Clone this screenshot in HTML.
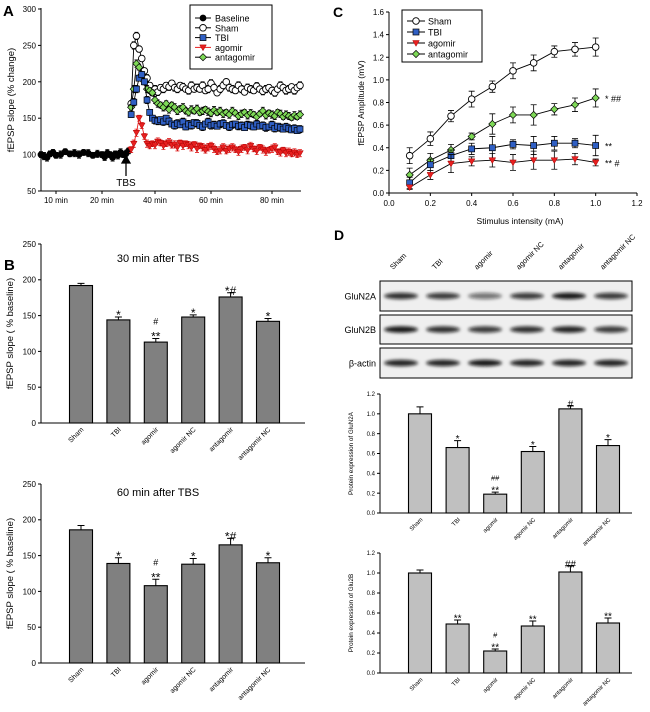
<!DOCTYPE html>
<html><head><meta charset="utf-8">
<style>
html,body{margin:0;padding:0;background:#fff;}
svg{display:block;font-family:"Liberation Sans",Arial,sans-serif;}
</style></head>
<body>
<svg id="fig" width="650" height="712" viewBox="0 0 650 712" xmlns="http://www.w3.org/2000/svg">
<defs><filter id="blur" x="-20%" y="-100%" width="140%" height="300%"><feGaussianBlur stdDeviation="1.6"/></filter></defs>
</svg>
<script>
// ---------- Panel A data ----------
const aBaseTime=[5,6,7,8,9,10,11,12,13,14,15,16,17,18,19,20,21,22,23,24,25,26,27,28,29,30];
const aBaseVal=[100,98,96,101,103,99,100,104,101,102,100,103,102,99,101,100,97,102,100,96,101,99,103,100,101,105];
const aPostTime=[31,32,33,34,35,36,37,38,39,40,41,42,43,44,45,46,47,48,49,50,51,52,53,54,55,56,57,58,59,60,61,62,63,64,65,66,67,68,69,70,71,72,73,74,75,76,77,78,79,80,81,82,83,84,85,86,87,88,89,90];
const aSham=[170,250,263,245,232,215,205,195,185,190,186,192,190,195,193,198,192,190,195,193,190,188,195,190,192,190,195,188,190,198,192,185,190,195,200,192,190,188,195,190,186,192,190,188,194,190,187,190,192,188,185,190,195,192,188,190,193,188,192,195];
const aTBI=[155,172,190,205,210,200,175,158,150,147,146,148,145,150,146,142,140,143,141,145,138,142,140,144,143,140,138,142,145,140,141,139,142,143,140,138,141,142,139,140,137,141,140,138,142,139,140,137,138,141,136,139,137,135,138,136,134,136,133,135];
const aAgo=[107,115,130,150,140,125,115,112,115,113,118,116,112,115,117,113,114,110,116,112,115,113,110,114,108,112,110,106,110,112,108,104,106,110,105,108,110,107,104,108,110,106,112,108,105,110,107,104,106,108,110,104,103,106,102,104,101,103,100,102];
const aAnt=[165,190,225,220,210,200,190,188,185,175,170,168,165,170,162,168,165,160,163,165,160,158,162,160,163,158,160,162,159,157,161,158,160,156,158,155,160,157,153,156,158,154,157,155,152,156,160,154,157,155,153,158,156,152,155,153,151,154,152,155];
const aErr=[4,5,5,4,4,4,5,4,4,5,5,4,5,4,5,4,5,5,4,5,4,5,5,4,5,4,5,4,5,5,5,4,5,5,4,5,5,4,5,5,4,5,5,4,5,4,5,5,4,5,5,4,5,4,5,5,4,5,4,5];
const aYTicks=[50,100,150,200,250,300];
const aXTicks=[10,20,40,60,80];
// ---------- Panel C data ----------
const cX=[0.1,0.2,0.3,0.4,0.5,0.6,0.7,0.8,0.9,1.0];
const cSham=[0.33,0.48,0.68,0.83,0.94,1.08,1.15,1.25,1.27,1.29];
const cShamE=[0.07,0.06,0.05,0.07,0.05,0.07,0.07,0.05,0.06,0.08];
const cTBI=[0.09,0.25,0.33,0.39,0.40,0.43,0.42,0.44,0.44,0.42];
const cTBIE=[0.05,0.05,0.05,0.05,0.10,0.04,0.08,0.06,0.04,0.09];
const cAgo=[0.05,0.16,0.26,0.28,0.29,0.27,0.29,0.29,0.30,0.27];
const cAgoE=[0.02,0.04,0.08,0.04,0.06,0.07,0.08,0.08,0.05,0.03];
const cAnt=[0.16,0.29,0.38,0.50,0.61,0.69,0.69,0.74,0.78,0.84];
const cAntE=[0.06,0.06,0.05,0.03,0.09,0.07,0.09,0.05,0.06,0.08];
const cXTicks=[0,0.2,0.4,0.6,0.8,1.0,1.2];
const cYTicks=[0,0.2,0.4,0.6,0.8,1.0,1.2,1.4,1.6];
// ---------- Panel B / D data ----------
const groups=["Sham","TBI","agomir","agomir NC","antagomir","antagomir NC"];
const b30=[192,144,113,148,176,142];
const b30E=[3,4,5,3,6,4];
const b30Sig=["","*","#|**","*","*#","*"];
const b60=[186,139,108,138,165,140];
const b60E=[6,8,9,8,9,7];
const b60Sig=["","*","#|**","*","*#","*"];
const bYTicks=[0,50,100,150,200,250];
const d2A=[1.0,0.66,0.19,0.62,1.05,0.68];
const d2AE=[0.07,0.07,0.02,0.05,0.03,0.06];
const d2ASig=["","*","##|**","*","#","*"];
const d2B=[1.0,0.49,0.22,0.47,1.01,0.50];
const d2BE=[0.03,0.04,0.02,0.05,0.06,0.05];
const d2BSig=["","**","#|**","**","##","**"];
const dYTicks=[0,0.2,0.4,0.6,0.8,1.0,1.2];
const blotA=[0.85,0.8,0.55,0.8,0.95,0.8];
const blotB=[0.95,0.85,0.8,0.85,0.9,0.8];
const blotActin=[0.9,0.9,0.95,0.9,0.9,0.9];

const svg=document.getElementById('fig');
const NS='http://www.w3.org/2000/svg';
function mk(tag,attrs,parent){const e=document.createElementNS(NS,tag);for(const k in attrs)e.setAttribute(k,attrs[k]);(parent||svg).appendChild(e);return e;}
function txt(s,x,y,size,anchor,parent,extra){const t=mk('text',Object.assign({x:x,y:y,'font-size':size,'text-anchor':anchor||'middle',fill:'#000'},extra||{}),parent);t.textContent=s;return t;}
function grp(name){const g=mk('g',{});return g;}

function marker(kind,x,y,g){
  let m;
  if(kind==='circle'){m=mk('circle',{cx:x,cy:y,r:3,fill:'#000',stroke:'#000','stroke-width':0.8},g);}
  else if(kind==='open'){m=mk('circle',{cx:x,cy:y,r:3.3,fill:'#fff',stroke:'#000','stroke-width':0.9},g);}
  else if(kind==='square'){m=mk('rect',{x:x-3,y:y-3,width:6,height:6,fill:'#2f5fc4',stroke:'#000','stroke-width':0.7},g);}
  else if(kind==='tri'){m=mk('polygon',{points:`${x-3.3},${y-2.5} ${x+3.3},${y-2.5} ${x},${y+3.3}`,fill:'#e82020',stroke:'#a00','stroke-width':0.5},g);}
  else {m=mk('polygon',{points:`${x},${y-3.6} ${x+3.6},${y} ${x},${y+3.6} ${x-3.6},${y}`,fill:'#7ed957',stroke:'#000','stroke-width':0.7},g);}
  return m;
}

// ================= Panel A =================
const aKnotsT=[5,10,20,40,60,80,90], aKnotsP=[41,56,102,155,211,272,300];
function ax(t){for(let i=0;i<aKnotsT.length-1;i++){if(t<=aKnotsT[i+1]){return aKnotsP[i]+(t-aKnotsT[i])/(aKnotsT[i+1]-aKnotsT[i])*(aKnotsP[i+1]-aKnotsP[i]);}}return 300;}
function ay(v){return 191-(v-50)/250*182;}
const gA=grp('panel-a');
txt('A',3,16,15,'start',gA,{'font-weight':'bold'});
mk('line',{x1:41,y1:8,x2:41,y2:191,stroke:'#000','stroke-width':1},gA);
mk('line',{x1:41,y1:191,x2:301,y2:191,stroke:'#000','stroke-width':1},gA);
aYTicks.forEach(v=>{mk('line',{x1:38,y1:ay(v),x2:41,y2:ay(v),stroke:'#000'},gA);const t=txt(String(v),36,ay(v)+3,8,'end',gA);});
aXTicks.forEach(v=>{mk('line',{x1:ax(v),y1:191,x2:ax(v),y2:194,stroke:'#000'},gA);const t=txt(v+' min',ax(v),203,8,'middle',gA);});
const aYl=txt('fEPSP slope (% change)',0,0,9.5,'middle',gA,{transform:'translate(14,100) rotate(-90)'});

function drawASeries(times,vals,kind,col,name,ebCol){
  const g=grp(name);gA.appendChild(g);
  mk('polyline',{points:times.map((t,i)=>ax(t)+','+ay(vals[i])).join(' '),fill:'none',stroke:col,'stroke-width':0.9},g);
  times.forEach((t,i)=>{const x=ax(t),y0=ay(vals[i]+aErr[i%aErr.length]),y1=ay(vals[i]-aErr[i%aErr.length]);
    mk('path',{d:`M${x},${y0}V${y1}M${x-2},${y0}H${x+2}M${x-2},${y1}H${x+2}`,stroke:ebCol,'stroke-width':0.8,fill:'none'},g);});
  times.forEach((t,i)=>{const m=marker(kind,ax(t),ay(vals[i]),g);});
}
drawASeries(aBaseTime,aBaseVal,'circle','#000','baseline-series','#000');
drawASeries(aPostTime,aSham,'open','#000','sham-series','#000');
drawASeries(aPostTime,aAnt,'diamond','#000','antagomir-series','#000');
drawASeries(aPostTime,aTBI,'square','#000','tbi-series','#000');
drawASeries(aPostTime,aAgo,'tri','#e82020','agomir-series','#e82020');
mk('path',{d:'M126,176V158M122,163L126,156L130,163Z',stroke:'#000','stroke-width':1.3,fill:'#000'},gA);
const tbs=txt('TBS',126,186,10,'middle',gA);
const legA=grp('a-legend');gA.appendChild(legA);
mk('rect',{x:190,y:5,width:82,height:64,fill:'#fff',stroke:'#000','stroke-width':1},legA);
[['Baseline','circle','#000'],['Sham','open','#000'],['TBI','square','#000'],['agomir','tri','#e82020'],['antagomir','diamond','#000']].forEach((e,i)=>{
  const y=18+i*9.8;const lg=grp('a-legend-entry');legA.appendChild(lg);
  mk('line',{x1:195,y1:y,x2:211,y2:y,stroke:e[2],'stroke-width':1},lg);marker(e[1],203,y,lg);txt(e[0],215,y+3.5,9,'start',lg);});

// ================= Panel C =================
function cx(v){return 389+v/1.2*248;}
function cy(v){return 193-v/1.6*181;}
const gC=grp('panel-c');
txt('C',333,17,14,'start',gC,{'font-weight':'bold'});
mk('line',{x1:389,y1:12,x2:389,y2:193,stroke:'#000'},gC);
mk('line',{x1:389,y1:193,x2:637,y2:193,stroke:'#000'},gC);
cYTicks.forEach(v=>{mk('line',{x1:386,y1:cy(v),x2:389,y2:cy(v),stroke:'#000'},gC);const t=txt(v.toFixed(1),384,cy(v)+3,8,'end',gC);});
cXTicks.forEach(v=>{mk('line',{x1:cx(v),y1:193,x2:cx(v),y2:196,stroke:'#000'},gC);const t=txt(v.toFixed(1),cx(v),206,8,'middle',gC);});
const cXl=txt('Stimulus intensity (mA)',520,224,8.5,'middle',gC);
const cYl=txt('fEPSP Amplitude (mV)',0,0,8.5,'middle',gC,{transform:'translate(364,103) rotate(-90)'});
function drawC(vals,errs,kind,name){
  const g=grp(name);gC.appendChild(g);
  mk('polyline',{points:cX.map((x,i)=>cx(x)+','+cy(vals[i])).join(' '),fill:'none',stroke:'#000','stroke-width':0.9},g);
  cX.forEach((x,i)=>{const px=cx(x),y0=cy(vals[i]+errs[i]),y1=cy(vals[i]-errs[i]);
    mk('path',{d:`M${px},${y0}V${y1}M${px-3},${y0}H${px+3}M${px-3},${y1}H${px+3}`,stroke:'#000','stroke-width':0.8,fill:'none'},g);});
  cX.forEach((x,i)=>{const m=marker(kind,cx(x),cy(vals[i]),g);});
}
drawC(cSham,cShamE,'open','c-sham-series');
drawC(cAnt,cAntE,'diamond','c-antagomir-series');
drawC(cTBI,cTBIE,'square','c-tbi-series');
drawC(cAgo,cAgoE,'tri','c-agomir-series');
[['* ##',cAnt[9]],['**',cTBI[9]],['** #',cAgo[9]]].forEach(a=>{const t=txt(a[0],605,cy(a[1])+4,9,'start',gC);});
const legC=grp('c-legend');gC.appendChild(legC);
mk('rect',{x:402,y:10,width:80,height:52,fill:'#fff',stroke:'#000'},legC);
[['Sham','open'],['TBI','square'],['agomir','tri'],['antagomir','diamond']].forEach((e,i)=>{const y=21+i*11;const lg=grp('c-legend-entry');legC.appendChild(lg);
  mk('line',{x1:407,y1:y,x2:425,y2:y,stroke:'#000'},lg);marker(e[1],416,y,lg);txt(e[0],428,y+3.5,9,'start',lg);});

// ================= Bar chart helper =================
function barChart(o){
  const g=grp(o.name);
  const sy=v=>o.y0-(v-o.ymin)/(o.ymax-o.ymin)*(o.y0-o.yTop);
  mk('line',{x1:o.xl,y1:o.yTop,x2:o.xl,y2:o.y0,stroke:'#000','stroke-width':1},g);
  mk('line',{x1:o.xl,y1:o.y0,x2:o.xr,y2:o.y0,stroke:'#000','stroke-width':1},g);
  o.ticks.forEach(v=>{mk('line',{x1:o.xl-3,y1:sy(v),x2:o.xl,y2:sy(v),stroke:'#000'},g);
    const t=txt(o.fmt(v),o.xl-5,sy(v)+o.tf/2.8,o.tf,'end',g);});
  o.vals.forEach((v,i)=>{const c=o.c0+i*o.step;
    const r=mk('rect',{x:c-o.bw/2,y:sy(v),width:o.bw,height:o.y0-sy(v),fill:o.fill,stroke:'#000','stroke-width':1.1},g);
    
    const ye=sy(v+o.errs[i]);
    mk('path',{d:`M${c},${sy(v)}V${ye}M${c-3.5},${ye}H${c+3.5}`,stroke:'#000','stroke-width':1,fill:'none'},g);
    const sig=o.sig[i];
    if(sig){const parts=sig.split('|');
      if(parts.length===2){txt(parts[0],c,ye-o.sf*1.15,o.sf*0.75,'middle',g);txt(parts[1],c,ye-2+o.sf*0.35,o.sf,'middle',g);}
      else txt(parts[0],c,ye-2+o.sf*0.35,o.sf,'middle',g);}
    const lab=txt(groups[i],0,0,o.lf,'end',g,{transform:`translate(${c+3},${o.y0+7}) rotate(-45)`});
    
  });
  const yl=txt(o.ylabel,0,0,o.yf,'middle',g,{transform:`translate(${o.ylx},${(o.y0+o.yTop)/2}) rotate(-90)`});
  
  return g;
}

// ================= Panel B =================
const bLab=txt('B',4,270,15,'start',svg,{'font-weight':'bold'});


const bt1=txt('30 min after TBS',158,262,11,'middle');
barChart({name:'b-30min-chart',xl:41,xr:305,y0:423,yTop:244,ymin:0,ymax:250,ticks:bYTicks,fmt:v=>String(v),tf:8,vals:b30,errs:b30E,sig:b30Sig,sf:12,
  c0:81,step:37.4,bw:23,fill:'#808080',lf:7,ylabel:'fEPSP slope ( % baseline)',yf:9.5,ylx:13});
const bt2=txt('60 min after TBS',158,496,11,'middle');
barChart({name:'b-60min-chart',xl:41,xr:305,y0:663,yTop:484,ymin:0,ymax:250,ticks:bYTicks,fmt:v=>String(v),tf:8,vals:b60,errs:b60E,sig:b60Sig,sf:12,
  c0:81,step:37.4,bw:23,fill:'#808080',lf:7,ylabel:'fEPSP slope ( % baseline)',yf:9.5,ylx:13});

// ================= Panel D =================
const gD=grp('panel-d');
txt('D',334,240,14,'start',gD,{'font-weight':'bold'});
const laneC=[401,443,485,527,569,611];
groups.forEach((gname,i)=>{const t=txt(gname,0,0,7.5,'start',gD,{transform:`translate(${laneC[i]-8},${270}) rotate(-45)`});});
function blot(label,y,h,ints){
  const g=grp('blot-'+label.toLowerCase().replace('β','beta'));gD.appendChild(g);
  mk('rect',{x:380,y:y,width:252,height:h,fill:'#efefef',stroke:'#000','stroke-width':1},g);
  ints.forEach((a,i)=>{const b=mk('ellipse',{cx:laneC[i],cy:y+h/2,rx:17,ry:3.2,fill:'#111','fill-opacity':a,filter:'url(#blur)'},g);
    });
  txt(label,376,y+h/2+3.5,9,'end',g);
}
blot('GluN2A',281,30,blotA);
blot('GluN2B',315,29,blotB);
blot('β-actin',348,30,blotActin);
barChart({name:'d-glun2a-chart',xl:380,xr:632,y0:513,yTop:394,ymin:0,ymax:1.2,ticks:dYTicks,fmt:v=>v.toFixed(1),tf:6,vals:d2A,errs:d2AE,sig:d2ASig,sf:10,
  c0:420,step:37.6,bw:23,fill:'#c0c0c0',lf:6,ylabel:'Protein expression of GluN2A',yf:6.3,ylx:353});
barChart({name:'d-glun2b-chart',xl:380,xr:632,y0:673,yTop:553,ymin:0,ymax:1.2,ticks:dYTicks,fmt:v=>v.toFixed(1),tf:6,vals:d2B,errs:d2BE,sig:d2BSig,sf:10,
  c0:420,step:37.6,bw:23,fill:'#c0c0c0',lf:6,ylabel:'Protein expression of Glu2B',yf:6.3,ylx:353});
</script>
</body></html>
